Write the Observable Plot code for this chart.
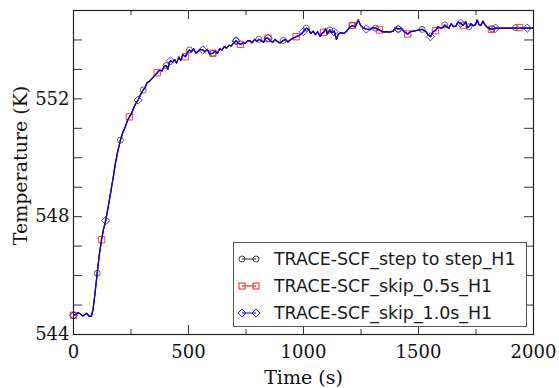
<!DOCTYPE html>
<html><head><meta charset="utf-8">
<script src="https://cdn.jsdelivr.net/npm/d3@7"></script>
<script src="https://cdn.jsdelivr.net/npm/@observablehq/plot@0.6"></script>
<style>
body{margin:0;background:#fff}
#wrap{position:relative;width:559px;height:388px}
.legend{position:absolute;left:233px;top:242px;width:292px;height:83px;border:1.5px solid #555;background:#fff;font-family:"DejaVu Sans",sans-serif;font-size:17.4px;color:#1a1a1a}
.legend .row{position:absolute;left:0;height:20px;display:flex;align-items:center;white-space:nowrap}
.legend svg{margin-left:4px;margin-right:14px}
</style></head><body><div id="wrap"></div>
<script>
// ---- data ----
const seriesNames = ["TRACE-SCF_step to step_H1", "TRACE-SCF_skip_0.5s_H1", "TRACE-SCF_skip_1.0s_H1"];
const lineTime = [0,10,20,30,40,50,58,68,78,85,92,103,112,122,130,140,150,160,172,182,192,204,214,225,234,243,252,262,271,281,292,303,312,320,330,340,352,364,375,385,393,403,410,416,422,430,440,448,458,466,475,487,495,504,513,522,532,542,552,562,572,582,592,606,616,626,636,646,656,666,676,686,696,707,716,726,736,746,756,766,776,788,798,806,816,826,836,846,856,866,876,886,898,912,922,932,942,952,968,980,990,999,1012,1022,1032,1042,1052,1062,1072,1080,1088,1096,1104,1114,1124,1134,1143,1152,1162,1175,1188,1200,1212,1225,1238,1248,1258,1273,1290,1300,1313,1330,1345,1360,1375,1390,1400,1412,1425,1438,1453,1465,1478,1490,1503,1516,1530,1540,1552,1563,1574,1585,1597,1607,1614,1622,1632,1642,1652,1662,1672,1683,1694,1705,1712,1719,1728,1738,1748,1755,1763,1772,1780,1790,1800,1817,1835,1900,2000];
const lineTemp = [544.65,544.68,544.74,544.70,544.63,544.68,544.72,544.62,544.62,544.85,545.3,546.08,546.7,547.22,547.55,547.87,548.3,548.75,549.3,549.8,550.2,550.6,550.85,551.05,551.25,551.39,551.5,551.7,551.85,551.96,552.15,552.3,552.4,552.55,552.6,552.68,552.78,552.89,552.98,552.95,553.1,553.13,553.0,553.22,553.29,553.25,553.33,553.22,553.42,553.3,553.5,553.43,553.58,553.66,553.6,553.7,553.55,553.62,553.68,553.66,553.6,553.68,553.52,553.55,553.62,553.55,553.7,553.66,553.78,553.72,553.82,553.8,553.9,553.97,553.9,553.85,553.9,553.88,553.96,553.98,553.9,554.02,553.95,554.02,553.98,553.92,554.06,554.06,553.96,553.92,554.02,553.95,553.9,553.98,554.02,553.93,554.0,554.05,554.11,554.15,554.2,554.28,554.4,554.36,554.22,554.3,554.18,554.28,554.12,554.22,554.26,554.38,554.2,554.34,554.25,554.3,554.02,554.2,554.25,554.22,554.3,554.42,554.49,554.45,554.68,554.5,554.42,554.37,554.35,554.42,554.4,554.34,554.27,554.28,554.27,554.3,554.42,554.37,554.4,554.28,554.2,554.28,554.3,554.32,554.34,554.36,554.3,554.2,554.11,554.28,554.32,554.45,554.4,554.42,554.51,554.45,554.4,554.55,554.45,554.47,554.6,554.57,554.49,554.62,554.42,554.45,554.55,554.48,554.52,554.68,554.52,554.5,554.64,554.5,554.42,554.36,554.4,554.4,554.4];
const stepMarkTime = [0,103,204,303,403,504,606,707,806,912,1012,1114,1212,1313,1412,1516,1614,1719,1820,1922];
const stepMarkTemp = [544.65,546.08,550.6,552.3,553.13,553.66,553.55,553.97,554.02,553.98,554.4,554.34,554.49,554.4,554.37,554.36,554.51,554.45,554.38,554.42];
const skip05MarkTime = [0,122,243,364,487,606,726,846,968,1088,1212,1330,1453,1574,1694,1817,1939];
const skip05MarkTemp = [544.65,547.22,551.39,552.89,553.43,553.55,553.85,554.06,554.11,554.26,554.49,554.34,554.2,554.32,554.49,554.36,554.42];
const skip10MarkTime = [0,140,281,422,562,707,846,999,1132,1273,1412,1552,1683,1835,1973];
const skip10MarkTemp = [544.65,547.87,551.96,553.29,553.66,553.97,554.06,554.28,554.28,554.37,554.37,554.11,554.57,554.4,554.4];
const xTicksMinor = [250,750,1250,1750];
const xTicksMajor = [0,500,1000,1500,2000];
const yTicksAll = [544,545,546,547,548,549,550,551,552,553,554,555];
const yTickLabels = [544,548,552];

// ---- styles ----
const colors = ["#444", "#ff1a1a", "#1a1aff"];
const lineColors = ["#222", "#ff0000", "#0000ee"];
const symbols = ["circle", "square", "diamond2"];
const radii = [3, 3.6, 3.7];
const W = 559, H = 388, mL = 73, mR = 26, mT = 10, mB = 54;
const iW = W - mL - mR, iH = H - mT - mB;

const line = lineTime.map((t, i) => ({t, v: lineTemp[i]}));
const marks = [
  stepMarkTime.map((t, i) => ({t, v: stepMarkTemp[i]})),
  skip05MarkTime.map((t, i) => ({t, v: skip05MarkTemp[i]})),
  skip10MarkTime.map((t, i) => ({t, v: skip10MarkTemp[i]}))
];

const seriesMarks = [];
for (let s = 0; s < 3; s++) {
  seriesMarks.push(Plot.line(line, {x: "t", y: "v", stroke: lineColors[s], strokeWidth: s === 2 ? 1.3 : 1.1}));
  seriesMarks.push(Plot.dot(marks[s], {x: "t", y: "v", symbol: symbols[s], r: radii[s], stroke: colors[s], fill: "none", strokeWidth: 1, strokeOpacity: 0.85}));
}

const tickStroke = "#333";
const chart = Plot.plot({
  width: W, height: H,
  marginLeft: mL, marginRight: mR, marginTop: mT, marginBottom: mB,
  style: {fontFamily: "DejaVu Serif", fontSize: "18px", color: "#111", background: "#fff"},
  x: {domain: [0, 2000]},
  y: {domain: [544, 555]},
  marks: [
    ...seriesMarks,
    // inward ticks
    Plot.tickX(xTicksMajor, {x: d => d, insetTop: iH - 9, stroke: tickStroke}),
    Plot.tickX(xTicksMinor, {x: d => d, insetTop: iH - 5, stroke: tickStroke}),
    Plot.tickX(xTicksMajor, {x: d => d, insetBottom: iH - 9, stroke: tickStroke}),
    Plot.tickX(xTicksMinor, {x: d => d, insetBottom: iH - 5, stroke: tickStroke}),
    Plot.tickY(yTicksAll, {y: d => d, insetRight: iW - 9, stroke: tickStroke}),
    Plot.tickY(yTicksAll, {y: d => d, insetLeft: iW - 9, stroke: tickStroke}),
    Plot.axisX(xTicksMajor, {tickSize: 0, tickPadding: 11, label: null, fontSize: 18, tickFormat: d => String(d)}),
    Plot.axisY(yTickLabels, {tickSize: 0, tickPadding: 4, label: null, fontSize: 18, tickFormat: d => String(d)}),
    Plot.text(["Time (s)"], {frameAnchor: "bottom", dy: 43, fontSize: 19, lineAnchor: "middle", textAnchor: "middle"}),
    Plot.text(["Temperature (K)"], {frameAnchor: "left", dx: -53, dy: -7, rotate: -90, fontSize: 19, lineAnchor: "middle", textAnchor: "middle"}),
    Plot.frame({stroke: "#222", strokeWidth: 1.2})
  ]
});
const wrap = document.getElementById("wrap");
wrap.appendChild(chart);

// legend
const leg = document.createElement("div");
leg.className = "legend";
seriesNames.forEach((name, i) => {
  const row = document.createElement("div");
  row.className = "row";
  row.style.top = (6 + i * 27) + "px";
  const sym = symbols[i];
  const shape = (cx) => sym === "circle" ? `<circle cx="${cx}" cy="10" r="3" fill="none" stroke="${colors[i]}"/>`
    : sym === "square" ? `<rect x="${cx-3}" y="7" width="6" height="6" fill="none" stroke="${colors[i]}"/>`
    : `<path d="M${cx-4},10L${cx},6L${cx+4},10L${cx},14Z" fill="none" stroke="${colors[i]}"/>`;
  row.innerHTML = `<svg width="22" height="20"><line x1="4" x2="18" y1="10" y2="10" stroke="${lineColors[i]}" stroke-width="1"/>${shape(4)}${shape(18)}</svg><span>${name}</span>`;
  leg.appendChild(row);
});
wrap.appendChild(leg);
</script></body></html>
